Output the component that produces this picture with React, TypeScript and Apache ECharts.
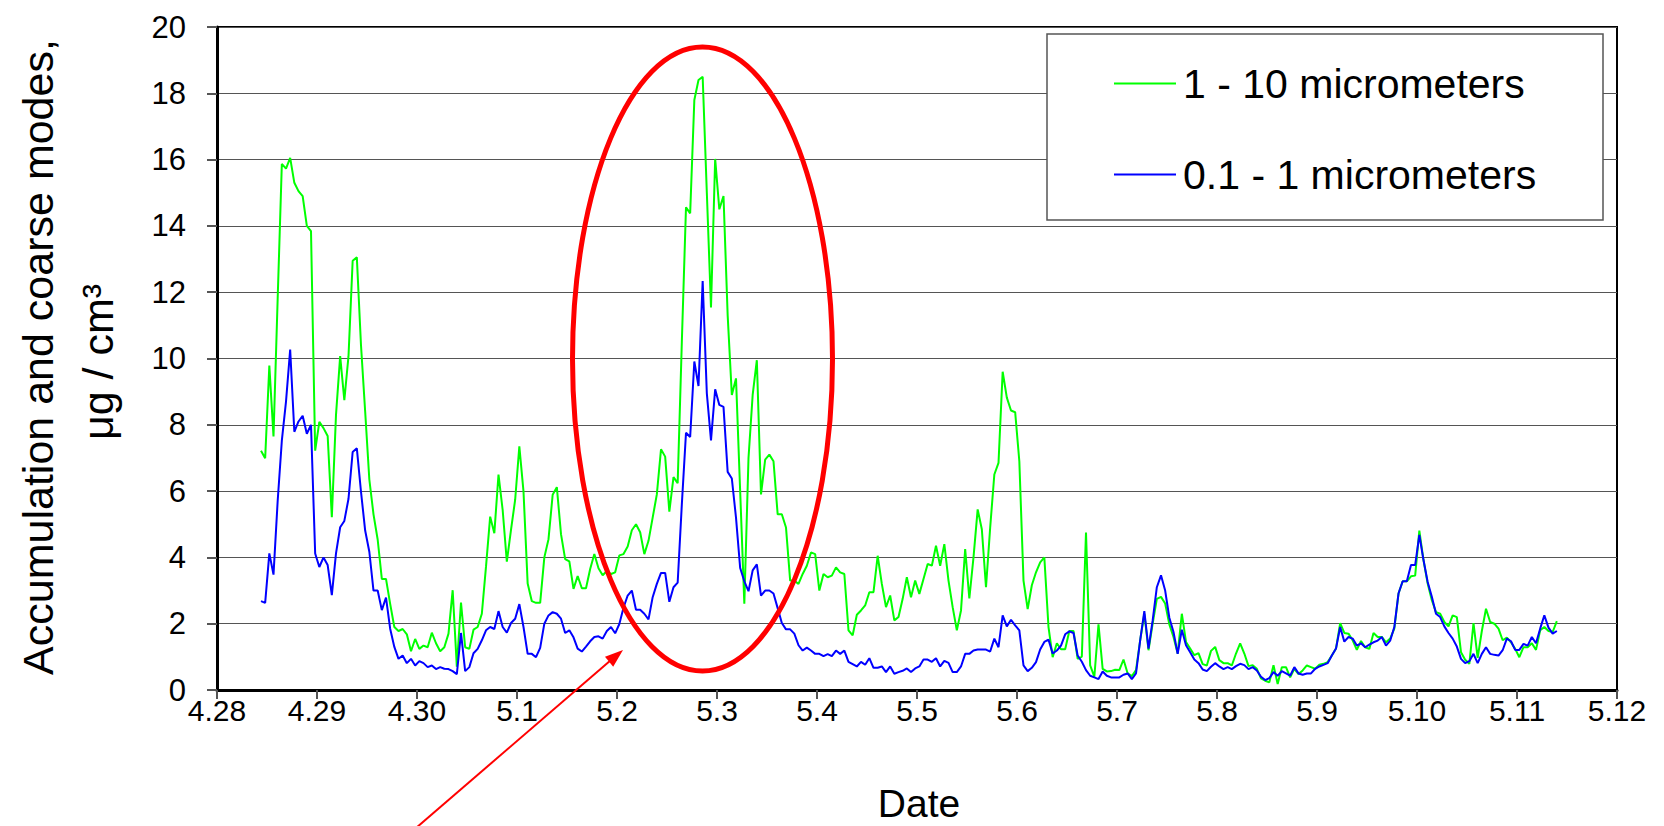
import React, { useEffect, useRef } from 'react';
import * as echarts from 'echarts';

const FONT = '"Liberation Sans", Arial, Helvetica, sans-serif';

// x-axis tick labels (one per day)
const X_LABELS = ['4.28', '4.29', '4.30', '5.1', '5.2', '5.3', '5.4', '5.5', '5.6', '5.7', '5.8', '5.9', '5.10', '5.11', '5.12'];

// hourly samples, first sample at 4.28 + 0.44 day
const T0_DAYS = 0.44;
const STEP_DAYS = 1 / 24;

const SERIES_NAMES = ['1 - 10 micrometers', '0.1 - 1 micrometers'];

// 1 - 10 micrometers (coarse mode)
const COARSE = [
  7.22, 6.99, 9.79, 7.65, 11.8, 15.87, 15.73, 16.05, 15.3, 15.05, 14.9, 14.0,
  13.84, 7.22, 8.09, 7.9, 7.66, 5.21, 8.3, 10.07, 8.74, 10.07, 12.95, 13.05,
  10.4, 8.4, 6.35, 5.3, 4.54, 3.35, 3.35, 2.6, 1.9, 1.78, 1.84, 1.68,
  1.17, 1.54, 1.24, 1.34, 1.29, 1.73, 1.41, 1.17, 1.29, 1.7, 3.01, 0.7,
  2.64, 1.29, 1.24, 1.82, 1.9, 2.3, 3.72, 5.23, 4.73, 6.5, 5.43, 3.87,
  4.83, 5.74, 7.35, 5.99, 3.21, 2.68, 2.63, 2.63, 4.0, 4.55, 5.89, 6.12,
  4.7, 3.95, 3.88, 3.05, 3.44, 3.07, 3.07, 3.65, 4.1, 3.67, 3.46, 3.59,
  3.5, 3.55, 4.06, 4.1, 4.33, 4.82, 5.0, 4.76, 4.1, 4.5, 5.2, 5.9,
  7.26, 7.04, 5.38, 6.42, 6.24, 10.5, 14.56, 14.38, 17.8, 18.4, 18.5, 15.0,
  11.54, 16.02, 14.5, 14.9, 11.3, 8.9, 9.4, 6.0, 2.6, 7.0, 8.9, 9.95,
  5.9, 6.95, 7.1, 6.9, 5.3, 5.3, 4.9, 3.3, 3.3, 3.2, 3.5, 3.75,
  4.15, 4.1, 3.0, 3.5, 3.4, 3.45, 3.7, 3.55, 3.5, 1.8, 1.65, 2.27,
  2.4, 2.55, 2.95, 2.95, 4.05, 3.2, 2.5, 2.85, 2.1, 2.2, 2.75, 3.4,
  2.8, 3.3, 2.9, 3.35, 3.8, 3.75, 4.35, 3.75, 4.4, 3.3, 2.5, 1.8,
  2.4, 4.25, 2.76, 4.0, 5.45, 4.85, 3.1, 4.9, 6.5, 6.85, 9.6, 8.82,
  8.43, 8.38, 6.9, 3.3, 2.44, 3.16, 3.55, 3.85, 4.0, 1.9, 0.99, 1.41,
  1.23, 1.23, 1.78, 1.78, 0.94, 1.01, 4.75, 0.74, 0.4, 1.98, 0.64, 0.56,
  0.57, 0.61, 0.6, 0.92, 0.5, 0.42, 0.6, 1.5, 2.3, 1.2, 2.0, 2.75,
  2.81, 2.61, 1.98, 1.6, 1.1, 2.3, 1.45, 1.25, 1.05, 1.11, 0.78, 0.74,
  1.18, 1.3, 0.9, 0.81, 0.81, 0.74, 1.1, 1.41, 1.1, 0.72, 0.75, 0.64,
  0.35, 0.28, 0.23, 0.75, 0.18, 0.69, 0.69, 0.38, 0.64, 0.48, 0.59, 0.74,
  0.69, 0.64, 0.76, 0.79, 0.84, 1.04, 1.25, 2.02, 1.72, 1.7, 1.5, 1.21,
  1.48, 1.29, 1.24, 1.72, 1.6, 1.6, 1.44, 1.55, 1.85, 2.91, 3.28, 3.28,
  3.43, 3.45, 4.81, 3.92, 3.21, 2.71, 2.35, 2.3, 2.05, 1.92, 2.25, 2.2,
  1.14, 0.91, 0.79, 2.02, 0.97, 1.78, 2.45, 2.05, 2.0, 1.85, 1.5, 1.58,
  1.44, 1.24, 0.99, 1.29, 1.29, 1.41, 1.21, 1.8, 1.9, 1.78, 1.75, 2.08,
];

// 0.1 - 1 micrometers (accumulation mode)
const ACCUM = [
  2.68, 2.63, 4.12, 3.48, 5.7, 7.52, 8.7, 10.27, 7.79, 8.1, 8.27, 7.73,
  8.0, 4.12, 3.71, 4.0, 3.77, 2.86, 4.12, 4.91, 5.1, 5.77, 7.18, 7.29,
  5.98, 4.81, 4.17, 3.0, 3.0, 2.41, 2.79, 1.85, 1.3, 0.94, 1.04, 0.81,
  0.94, 0.74, 0.87, 0.81, 0.69, 0.74, 0.63, 0.69, 0.64, 0.63, 0.57, 0.48,
  1.72, 0.57, 0.69, 1.11, 1.24, 1.5, 1.8, 1.9, 1.84, 2.38, 1.9, 1.73,
  2.02, 2.15, 2.59, 1.9, 1.09, 1.09, 0.99, 1.27, 2.0, 2.25, 2.35, 2.3,
  2.15, 1.72, 1.8, 1.59, 1.25, 1.16, 1.31, 1.47, 1.6, 1.62, 1.55, 1.78,
  1.9, 1.71, 1.99, 2.48, 2.85, 3.0, 2.42, 2.42, 2.3, 2.13, 2.8, 3.2,
  3.53, 3.53, 2.66, 3.1, 3.24, 5.6, 7.76, 7.63, 9.91, 9.17, 12.34, 8.95,
  7.53, 9.07, 8.6, 8.54, 6.58, 6.38, 5.2, 3.68, 3.28, 2.98, 3.61, 3.79,
  2.85, 3.0, 3.0, 2.91, 2.47, 2.02, 1.83, 1.83, 1.7, 1.35, 1.19, 1.28,
  1.19, 1.09, 1.09, 1.02, 1.08, 1.02, 1.19, 1.09, 1.19, 0.85, 0.78, 0.71,
  0.85, 0.76, 0.96, 0.67, 0.67, 0.71, 0.54, 0.71, 0.49, 0.54, 0.58, 0.65,
  0.54, 0.65, 0.71, 0.92, 0.92, 0.85, 0.96, 0.71, 0.88, 0.82, 0.54, 0.54,
  0.71, 1.09, 1.09, 1.19, 1.22, 1.22, 1.22, 1.16, 1.55, 1.29, 2.25, 1.92,
  2.12, 1.95, 1.8, 0.74, 0.57, 0.67, 0.84, 1.22, 1.45, 1.52, 1.1, 1.19,
  1.34, 1.68, 1.77, 1.72, 1.04, 0.85, 0.6, 0.43, 0.38, 0.33, 0.56, 0.43,
  0.38, 0.38, 0.38, 0.46, 0.5, 0.33, 0.5, 1.5, 2.38, 1.25, 2.1, 3.1,
  3.46, 3.0, 2.18, 1.75, 1.09, 1.82, 1.35, 1.14, 0.92, 0.81, 0.62, 0.57,
  0.7, 0.81, 0.71, 0.63, 0.69, 0.63, 0.72, 0.79, 0.75, 0.63, 0.69, 0.59,
  0.4, 0.3, 0.36, 0.54, 0.43, 0.57, 0.5, 0.43, 0.69, 0.5, 0.46, 0.5,
  0.5, 0.64, 0.71, 0.76, 0.81, 1.04, 1.25, 1.9, 1.46, 1.6, 1.55, 1.34,
  1.41, 1.29, 1.37, 1.44, 1.49, 1.6, 1.34, 1.49, 1.9, 2.91, 3.28, 3.28,
  3.77, 3.77, 4.68, 3.92, 3.26, 2.81, 2.3, 2.2, 1.92, 1.72, 1.55, 1.31,
  0.94, 0.81, 0.87, 1.09, 0.81, 1.09, 1.29, 1.09, 1.06, 1.04, 1.2, 1.55,
  1.47, 1.21, 1.21, 1.39, 1.34, 1.6, 1.41, 1.85, 2.25, 1.88, 1.7, 1.78,
];

const toPairs = (vals: number[]) => vals.map((v, i) => [T0_DAYS + i * STEP_DAYS, v]);

export default function App() {
  const ref = useRef<HTMLDivElement>(null);

  useEffect(() => {
    document.body.style.margin = '0';
    const chart = echarts.init(ref.current!, null, { renderer: 'svg' });

    const arrowTip = [623, 650];
    const arrowTail = [416, 828];

    chart.setOption({
      animation: false,
      backgroundColor: '#ffffff',
      grid: {
        left: 217,
        top: 27,
        width: 1400,
        height: 663,
        show: true,
        borderColor: '#000',
        borderWidth: 2,
        backgroundColor: 'transparent',
      },
      xAxis: {
        type: 'value',
        min: 0,
        max: 14,
        interval: 1,
        axisLine: { show: true, onZero: false, lineStyle: { color: '#000', width: 3 } },
        axisTick: { show: true, length: 9, lineStyle: { color: '#555', width: 2 } },
        axisLabel: {
          margin: 5,
          fontSize: 30,
          fontFamily: FONT,
          color: '#000',
          showMinLabel: true,
          showMaxLabel: true,
          formatter: (v: number) => X_LABELS[Math.round(v)] ?? '',
        },
        splitLine: { show: false },
      },
      yAxis: {
        type: 'value',
        min: 0,
        max: 20,
        interval: 2,
        axisLine: { show: true, lineStyle: { color: '#000', width: 3 } },
        axisTick: { show: true, length: 10, lineStyle: { color: '#555', width: 2 } },
        axisLabel: { margin: 31, fontSize: 31, fontFamily: FONT, color: '#000' },
        splitLine: { show: true, lineStyle: { color: '#555', width: 1 } },
      },
      legend: {
        orient: 'vertical',
        left: 1114,
        top: 63,
        itemWidth: 62,
        itemHeight: 2,
        itemGap: 50,
        icon: 'rect',
        padding: 0,
        textStyle: { fontSize: 41, fontFamily: FONT, color: '#000', lineHeight: 40, padding: [0, 0, 0, 2] },
        data: SERIES_NAMES,
      },
      series: [
        {
          name: SERIES_NAMES[0],
          type: 'line',
          data: toPairs(COARSE),
          showSymbol: false,
          symbol: 'none',
          color: '#00ff00',
          lineStyle: { width: 2, color: '#00ff00' },
          z: 2,
        },
        {
          name: SERIES_NAMES[1],
          type: 'line',
          data: toPairs(ACCUM),
          showSymbol: false,
          symbol: 'none',
          color: '#0000ff',
          lineStyle: { width: 2, color: '#0000ff' },
          z: 3,
        },
      ],
      graphic: [
        {
          type: 'rect',
          silent: true,
          z: 3,
          shape: { x: 1047, y: 34, width: 556, height: 186 },
          style: { fill: '#fff', stroke: '#555', lineWidth: 1.5 },
        },
        {
          type: 'ellipse',
          silent: true,
          z: 10,
          shape: { cx: 702.5, cy: 359, rx: 130, ry: 312 },
          style: { fill: 'none', stroke: '#ff0000', lineWidth: 5 },
        },
        {
          type: 'line',
          silent: true,
          z: 10,
          shape: { x1: arrowTail[0], y1: arrowTail[1], x2: 611, y2: 660 },
          style: { stroke: '#ff0000', lineWidth: 2 },
        },
        {
          type: 'polygon',
          silent: true,
          z: 10,
          shape: { points: [arrowTip, [613.2, 666.8], [605.0, 656.8]] },
          style: { fill: '#ff0000' },
        },
        {
          type: 'text',
          silent: true,
          x: 38,
          y: 357,
          rotation: Math.PI / 2,
          style: {
            text: 'Accumulation and coarse modes,',
            fontSize: 43,
            fontFamily: FONT,
            fill: '#000',
            align: 'center',
            verticalAlign: 'middle',
          },
        },
        {
          type: 'text',
          silent: true,
          x: 98,
          y: 362,
          rotation: Math.PI / 2,
          style: {
            text: 'μg / cm³',
            fontSize: 43,
            fontFamily: FONT,
            fill: '#000',
            align: 'center',
            verticalAlign: 'middle',
          },
        },
        {
          type: 'text',
          silent: true,
          x: 919,
          y: 803,
          style: {
            text: 'Date',
            fontSize: 39,
            fontFamily: FONT,
            fill: '#000',
            align: 'center',
            verticalAlign: 'middle',
          },
        },
      ],
    });

    return () => chart.dispose();
  }, []);

  return <div ref={ref} style={{ width: 1664, height: 826 }} />;
}
